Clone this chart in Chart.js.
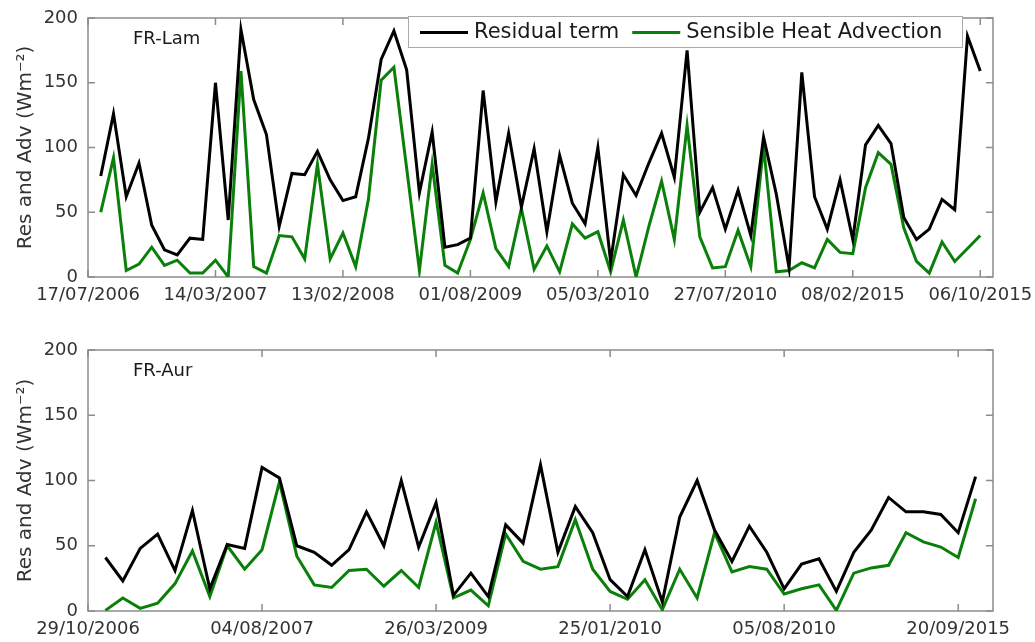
<!DOCTYPE html>
<html>
<head>
<meta charset="utf-8">
<script src="https://cdn.jsdelivr.net/npm/chart.js@4"></script>
<style>
  body { margin: 0; background: #fff; }
  canvas { position: absolute; left: 0; }
  #lamChart { top: 0; }
  #aurChart { top: 320px; }
</style>
</head>
<body>
<canvas id="lamChart" width="1035" height="320"></canvas>
<canvas id="aurChart" width="1035" height="322"></canvas>
<script>
// FR-Lam (top panel)
const lamTicks = ['17/07/2006', '14/03/2007', '13/02/2008', '01/08/2009', '05/03/2010', '27/07/2010', '08/02/2015', '06/10/2015'];
const resLam = [78, 126, 62, 88, 40, 21, 17, 30, 29, 150, 44, 191, 137, 110, 39, 80, 79, 97, 75, 59,
  62, 107, 168, 190, 160, 65, 112, 23, 25, 30, 144, 58, 111, 54, 99, 35, 94, 57, 41, 100,
  12, 79, 63, 88, 111, 77, 175, 50, 69, 37, 67, 32, 108, 64, 7, 158, 62, 37, 75, 29,
  102, 117, 103, 46, 29, 37, 60, 52, 186, 159];
const advLam = [50, 92, 5, 10, 23, 9, 13, 3, 3, 13, 0, 159, 8, 3, 32, 31, 14, 87, 14, 34,
  8, 60, 152, 162, 84, 5, 87, 9, 3, 29, 65, 22, 8, 53, 6, 24, 4, 41, 30, 35,
  4, 44, 0, 39, 74, 29, 117, 31, 7, 8, 36, 8, 101, 4, 5, 11, 7, 29, 19, 18,
  69, 96, 87, 38, 12, 3, 27, 12, 22, 32];

// FR-Aur (bottom panel)
const aurTicks = ['29/10/2006', '04/08/2007', '26/03/2009', '25/01/2010', '05/08/2010', '20/09/2015'];
const resAur = [41, 23, 48, 59, 31, 77, 17, 51, 48, 110, 102, 50, 45, 35, 47, 76, 50, 100, 49, 83,
  12, 29, 11, 66, 52, 112, 45, 80, 60, 24, 11, 47, 7, 72, 100, 62, 38, 65, 45, 17,
  36, 40, 15, 45, 62, 87, 76, 76, 74, 60, 103];
const advAur = [0.5, 10, 2, 6, 21, 46, 11, 50, 32, 47, 99, 42, 20, 18, 31, 32, 19, 31, 18, 68,
  10, 16, 4, 59, 38, 32, 34, 70, 32, 15, 9, 24, 1, 32, 10, 60, 30, 34, 32, 13,
  17, 20, 0.5, 29, 33, 35, 60, 53, 49, 41, 86];

const yTicks = [0, 50, 100, 150, 200];
const seriesNames = ['Residual term', 'Sensible Heat Advection'];
const seriesColors = ['#000000', '#0a800a'];

Chart.defaults.font.family = "'DejaVu Sans', sans-serif";
Chart.defaults.color = '#333';

function toPoints(arr) {
  return arr.map(function(v, i) { return { x: i + 1, y: v }; });
}

// box + inward ticks + site label (+ legend on top panel)
const framePlugin = {
  id: 'frame',
  beforeDatasetsDraw(chart) {
    const ctx = chart.ctx;
    const a = chart.chartArea;
    const xs = chart.scales.x;
    const ys = chart.scales.y;
    const tl = 7;
    ctx.save();
    ctx.strokeStyle = '#8c8c8c';
    ctx.lineWidth = 1.5;
    ctx.strokeRect(a.left, a.top, a.right - a.left, a.bottom - a.top);
    ctx.beginPath();
    yTicks.forEach(function(v) {
      const y = ys.getPixelForValue(v);
      ctx.moveTo(a.left, y); ctx.lineTo(a.left + tl, y);
      ctx.moveTo(a.right, y); ctx.lineTo(a.right - tl, y);
    });
    xs.ticks.forEach(function(t) {
      const x = xs.getPixelForValue(t.value);
      ctx.moveTo(x, a.bottom); ctx.lineTo(x, a.bottom - tl);
      ctx.moveTo(x, a.top); ctx.lineTo(x, a.top + tl);
    });
    ctx.stroke();
    const o = chart.options.plugins.frame;
    ctx.fillStyle = '#1a1a1a';
    ctx.font = "18px 'DejaVu Sans'";
    ctx.textBaseline = 'middle';
    ctx.fillText(o.site, a.left + 45, a.top + 21);
    ctx.restore();
  },
  afterDatasetsDraw(chart) {
    const o = chart.options.plugins.frame;
    if (!o.legend) return;
    const ctx = chart.ctx;
    ctx.save();
    const bx = 408, by = 16, bw = 554, bh = 31;
    ctx.fillStyle = '#fff';
    ctx.fillRect(bx, by, bw, bh);
    ctx.strokeStyle = '#aaaaaa';
    ctx.lineWidth = 1;
    ctx.strokeRect(bx + 0.5, by + 0.5, bw, bh);
    ctx.font = "21px 'DejaVu Sans'";
    ctx.textBaseline = 'middle';
    const cy = by + bh / 2 + 1;
    let x = bx + 12;
    seriesNames.forEach(function(name, i) {
      ctx.strokeStyle = seriesColors[i];
      ctx.lineWidth = 3;
      ctx.beginPath();
      ctx.moveTo(x, cy); ctx.lineTo(x + 48, cy);
      ctx.stroke();
      ctx.fillStyle = '#1a1a1a';
      ctx.fillText(name, x + 54, cy);
      x += 54 + ctx.measureText(name).width + 13;
    });
    ctx.restore();
  }
};

function makeChart(id, res, adv, tickLabels, xMax, topPad, xAxisHeight, site, legend) {
  const ctx = document.getElementById(id).getContext('2d');
  return new Chart(ctx, {
    type: 'line',
    data: {
      datasets: [
        {
          label: seriesNames[0],
          data: toPoints(res),
          borderColor: seriesColors[0],
          borderWidth: 3,
          pointRadius: 0,
          tension: 0,
          fill: false
        },
        {
          label: seriesNames[1],
          data: toPoints(adv),
          borderColor: seriesColors[1],
          borderWidth: 3,
          pointRadius: 0,
          tension: 0,
          fill: false
        }
      ]
    },
    options: {
      responsive: false,
      animation: false,
      layout: { padding: { left: 0, right: 42, top: topPad, bottom: 0 } },
      plugins: {
        legend: { display: false },
        tooltip: { enabled: false },
        frame: { site: site, legend: legend }
      },
      scales: {
        x: {
          type: 'linear',
          min: 0,
          max: xMax,
          afterFit: function(s) {
            s.height = xAxisHeight;
            s.paddingLeft = 0;
            s.paddingRight = 0;
          },
          afterBuildTicks: function(s) {
            s.ticks = tickLabels.map(function(_, i) { return { value: i * 10 }; });
          },
          ticks: {
            autoSkip: false,
            maxRotation: 0,
            padding: 8,
            font: { size: 18 },
            color: '#333',
            callback: function(value) { return tickLabels[Math.round(value / 10)]; }
          },
          grid: { display: false, drawTicks: false },
          border: { display: false }
        },
        y: {
          min: 0,
          max: 200,
          afterFit: function(s) {
            s.width = 88;
            s.paddingTop = 0;
            s.paddingBottom = 0;
          },
          ticks: {
            stepSize: 50,
            padding: 10,
            font: { size: 18 },
            color: '#333'
          },
          title: {
            display: true,
            text: 'Res and Adv (Wm⁻²)',
            font: { size: 20 },
            color: '#333',
            padding: { top: 14, bottom: 0 }
          },
          grid: { display: false, drawTicks: false },
          border: { display: false }
        }
      }
    },
    plugins: [framePlugin]
  });
}

makeChart('lamChart', resLam, advLam, lamTicks, 71, 18, 43, 'FR-Lam', true);
makeChart('aurChart', resAur, advAur, aurTicks, 52, 30, 31, 'FR-Aur', false);
</script>
</body>
</html>
